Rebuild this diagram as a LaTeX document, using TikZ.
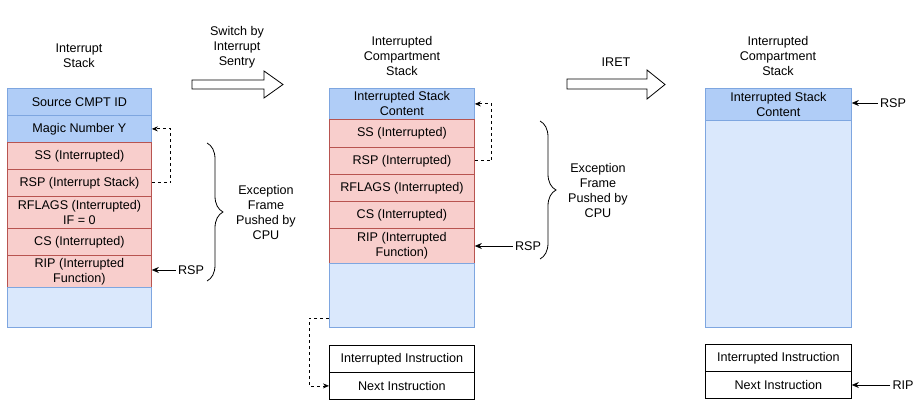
\documentclass[tikz,border=0pt]{standalone}
\usepackage{fontspec}
\setmainfont{Liberation Sans}
\usetikzlibrary{arrows.meta,decorations.pathreplacing}
\definecolor{bluedark}{HTML}{B0CDF7}
\definecolor{bluelight}{HTML}{DAE8FC}
\definecolor{bluestroke}{HTML}{7EA6E0}
\definecolor{pinkfill}{HTML}{F8CECC}
\definecolor{pinkstroke}{HTML}{B85450}
\begin{document}
\begin{tikzpicture}[x=1pt,y=-1pt,
 every node/.style={font=\fontsize{12.6}{15}\selectfont},
 cell/.style={draw, line width=0.8pt, inner sep=0pt, align=center, anchor=north west},
 bcell/.style={cell, fill=bluedark, draw=bluestroke},
 lcell/.style={cell, fill=bluelight, draw=bluestroke},
 pcell/.style={cell, fill=pinkfill, draw=pinkstroke},
 wcell/.style={cell, fill=white, draw=black},
 lw/.style={minimum width=144pt},
 mw/.style={minimum width=145pt},
 rw/.style={minimum width=146pt},
 txt/.style={align=center, inner sep=2pt},
 solidarrow/.style={-{Stealth[length=7pt,width=6pt]}, line width=0.8pt},
 dasharrow/.style={-{Stealth[length=6pt,width=5pt]}, line width=0.8pt, dash pattern=on 3pt off 3pt},
 bigarrow/.style={draw, line width=0.8pt, fill=white},
 bracebar/.style={decorate, decoration={brace, amplitude=16pt}, line width=0.8pt}
]
\useasboundingbox (0,0) rectangle (920,406);

% ---------- left stack ----------
\node[txt] (ltitle) at (79,56) {Interrupt\\Stack};
\node[bcell, lw, minimum height=27pt] (lsrc) at (7,88) {Source CMPT ID};
\node[bcell, lw, minimum height=27pt] (lmagic) at (7,115) {Magic Number Y};
\node[pcell, lw, minimum height=27pt] (lss) at (7,142) {SS (Interrupted)};
\node[pcell, lw, minimum height=27pt] (lrsp) at (7,169) {RSP (Interrupt Stack)};
\node[pcell, lw, minimum height=32pt] (lrflags) at (7,196) {RFLAGS (Interrupted)\\IF = 0};
\node[pcell, lw, minimum height=27pt] (lcs) at (7,228) {CS (Interrupted)};
\node[pcell, lw, minimum height=32pt] (lrip) at (7,255) {RIP (Interrupted\\Function)};
\node[lcell, lw, minimum height=40pt] (lempty) at (7,287) {};

\draw[dasharrow] (lrsp.east) -- ++(19,0) |- (lmagic.east);
\draw[bracebar] (207,143) -- (207,281);
\node[txt] (lexc) at (266,212.5) {Exception\\Frame\\Pushed by\\CPU};
\node[txt] (lrsplab) at (191,270) {RSP};
\draw[solidarrow] (lrsplab.west) -- (lrip.east |- lrsplab.west);

% ---------- switch arrow ----------
\node[txt] (switchlab) at (237,47.5) {Switch by\\Interrupt\\Sentry};
\draw[bigarrow] (192,80) -- (264,80) -- (264,71) -- (283,84.5) -- (264,98) -- (264,89) -- (192,89) -- cycle;

% ---------- middle stack ----------
\node[txt] (mtitle) at (402,56) {Interrupted\\Compartment\\Stack};
\node[bcell, mw, minimum height=31pt] (mcont) at (329,88) {Interrupted Stack\\Content};
\node[pcell, mw, minimum height=28pt] (mss) at (329,119) {SS (Interrupted)};
\node[pcell, mw, minimum height=27pt] (mrsp) at (329,147) {RSP (Interrupted)};
\node[pcell, mw, minimum height=27pt] (mrflags) at (329,174) {RFLAGS (Interrupted)};
\node[pcell, mw, minimum height=27pt] (mcs) at (329,201) {CS (Interrupted)};
\node[pcell, mw, minimum height=35pt] (mrip) at (329,228) {RIP (Interrupted\\Function)};
\node[lcell, mw, minimum height=64pt] (mempty) at (329,263) {};

\draw[dasharrow] (mrsp.east) -- ++(17,0) |- (mcont.east);
\draw[bracebar] (540,121) -- (540,259);
\node[txt] (mexc) at (598,190.5) {Exception\\Frame\\Pushed by\\CPU};
\node[txt] (mrsplab) at (528,246) {RSP};
\draw[solidarrow] (mrsplab.west) -- (mrip.east |- mrsplab.west);

\node[wcell, mw, minimum height=27pt] (minter) at (329,345) {Interrupted Instruction};
\node[wcell, mw, minimum height=27pt] (mnext) at (329,372) {Next Instruction};
\coordinate (mdash) at (329,318);
\draw[dasharrow] (mdash) -- ++(-20,0) |- (mnext.west);

% ---------- IRET arrow ----------
\node[txt] (iretlab) at (616,62) {IRET};
\draw[bigarrow] (567,79) -- (647,79) -- (647,70) -- (665,84.5) -- (647,99) -- (647,89) -- (567,89) -- cycle;

% ---------- right stack ----------
\node[txt] (rtitle) at (778,56) {Interrupted\\Compartment\\Stack};
\node[bcell, rw, minimum height=32pt] (rcont) at (705,88) {Interrupted Stack\\Content};
\node[lcell, rw, minimum height=207pt] (rempty) at (705,120) {};
\node[txt] (rrsplab) at (893,103) {RSP};
\draw[solidarrow] (rrsplab.west) -- (rcont.east |- rrsplab.west);

\node[wcell, rw, minimum height=27pt] (rinter) at (705,344) {Interrupted Instruction};
\node[wcell, rw, minimum height=27pt] (rnext) at (705,371) {Next Instruction};
\node[txt] (riplab) at (903,385) {RIP};
\draw[solidarrow] (riplab.west) -- (rnext.east |- riplab.west);
\end{tikzpicture}
\end{document}
